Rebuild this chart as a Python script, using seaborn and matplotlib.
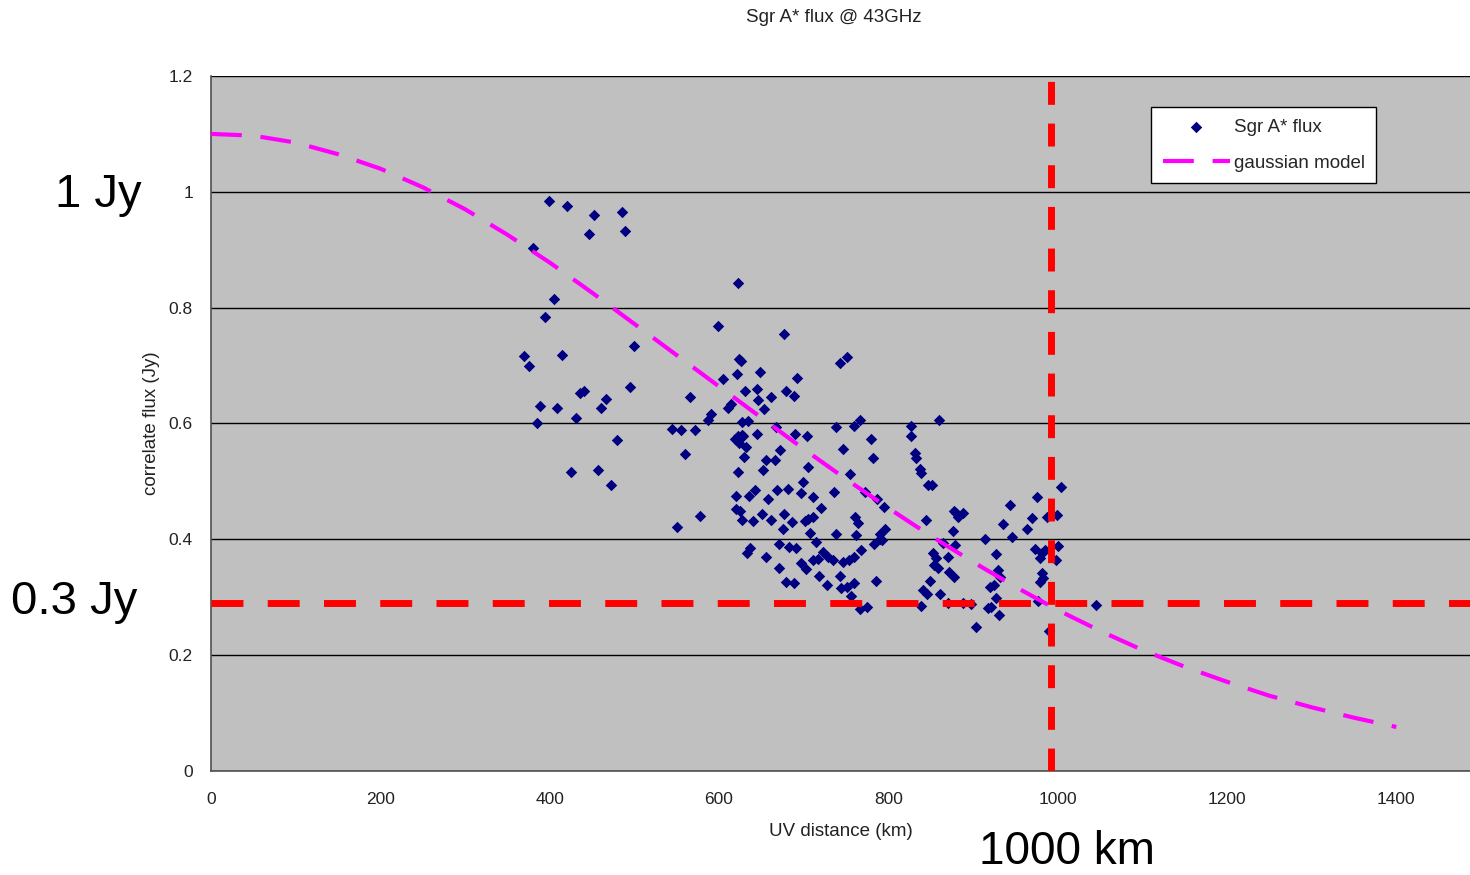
import matplotlib
matplotlib.use("Agg")
import matplotlib.pyplot as plt
import seaborn as sns
import pandas as pd

# ---- data ----
uv_km = [370, 375, 380, 385, 389, 395, 399, 405, 409, 414, 420, 425, 431, 436, 441, 446, 452, 457, 461, 467,
         473, 479, 485, 489, 495, 500,
         544, 550, 555, 560, 566, 572, 578,
         587, 591, 599, 605, 611, 614, 619, 620, 620, 621, 622, 622, 622, 624, 624, 625, 626, 627, 627, 627,
         628, 630, 631, 632, 633, 634, 636, 637, 640, 643, 645, 645, 646, 649, 651, 652, 653, 656, 656, 658,
         662, 662, 666, 667, 669, 671, 671, 672, 676, 677, 677, 679, 679, 682, 683, 686, 688, 688, 690, 691,
         692, 697, 697, 699, 702, 703, 704, 705, 705, 708, 711, 711, 711, 714, 717, 718, 721, 723, 727, 729,
         735, 736, 738, 738, 743, 743, 744, 747, 747, 751, 751, 753, 755, 756, 759, 759, 760, 761, 762, 764,
         766, 767, 768, 772, 775, 779, 782, 783, 786, 787, 790, 790, 793, 795, 796,
         827, 827, 832, 833, 837, 838, 839, 841, 845, 846, 847, 849, 852, 853, 854, 856, 859, 860, 861, 865,
         870, 870, 872, 876, 877, 877, 879, 880, 882, 888, 888, 898, 904, 914, 918, 920, 921, 925, 927, 927,
         930, 931, 932, 936, 944, 946, 964, 970, 973, 975, 977, 979, 979, 981, 981, 983, 985, 987, 990, 998,
         999, 1000, 1004, 1045]
flux_jy = [0.717, 0.700, 0.903, 0.600, 0.630, 0.784, 0.984, 0.815, 0.627, 0.719, 0.976, 0.516, 0.610, 0.653,
           0.656, 0.927, 0.960, 0.520, 0.627, 0.642, 0.494, 0.572, 0.965, 0.933, 0.663, 0.734,
           0.591, 0.421, 0.589, 0.547, 0.646, 0.589, 0.440,
           0.606, 0.617, 0.769, 0.677, 0.627, 0.634, 0.573, 0.475, 0.452, 0.686, 0.843, 0.516, 0.579, 0.712,
           0.566, 0.449, 0.708, 0.603, 0.580, 0.434, 0.578, 0.542, 0.656, 0.560, 0.377, 0.604, 0.475, 0.385,
           0.432, 0.485, 0.660, 0.582, 0.641, 0.689, 0.444, 0.520, 0.625, 0.537, 0.370, 0.470, 0.646, 0.434,
           0.537, 0.594, 0.485, 0.392, 0.351, 0.554, 0.418, 0.755, 0.444, 0.656, 0.326, 0.487, 0.387, 0.430,
           0.648, 0.325, 0.582, 0.385, 0.679, 0.480, 0.359, 0.499, 0.432, 0.349, 0.579, 0.525, 0.435, 0.411,
           0.473, 0.439, 0.364, 0.396, 0.366, 0.337, 0.454, 0.378, 0.321, 0.370, 0.364, 0.482, 0.594, 0.409,
           0.705, 0.337, 0.316, 0.556, 0.361, 0.715, 0.318, 0.364, 0.513, 0.302, 0.370, 0.325, 0.596, 0.439,
           0.408, 0.428, 0.280, 0.606, 0.382, 0.482, 0.283, 0.573, 0.541, 0.392, 0.328, 0.470, 0.409, 0.400,
           0.399, 0.456, 0.418,
           0.596, 0.579, 0.549, 0.541, 0.522, 0.515, 0.285, 0.313, 0.433, 0.306, 0.494, 0.328, 0.494, 0.376,
           0.356, 0.368, 0.351, 0.606, 0.306, 0.394, 0.370, 0.290, 0.344, 0.415, 0.449, 0.335, 0.390, 0.446,
           0.439, 0.446, 0.290, 0.288, 0.249, 0.401, 0.281, 0.318, 0.284, 0.321, 0.375, 0.299, 0.347, 0.269,
           0.335, 0.427, 0.459, 0.404, 0.418, 0.437, 0.383, 0.473, 0.294, 0.368, 0.327, 0.376, 0.342, 0.333,
           0.382, 0.439, 0.242, 0.364, 0.442, 0.389, 0.490, 0.287]

model_km = [0, 50, 100, 150, 200, 250, 300, 350, 400, 450, 500, 550, 600, 650, 700, 750, 800, 850, 900, 950,
            1000, 1050, 1100, 1150, 1200, 1250, 1300, 1350, 1400]
model_jy = [1.100, 1.097, 1.085, 1.065, 1.040, 1.008, 0.970, 0.926, 0.878, 0.826, 0.772, 0.718, 0.664, 0.610,
            0.556, 0.504, 0.454, 0.406, 0.361, 0.318, 0.278, 0.242, 0.209, 0.180, 0.154, 0.130, 0.110, 0.092,
            0.076]

flux_threshold = 0.29
uv_threshold = 992

x_ticks = [0, 200, 400, 600, 800, 1000, 1200, 1400]
y_ticks = [0, 0.2, 0.4, 0.6, 0.8, 1.0, 1.2]
y_tick_labels = ["0", "0.2", "0.4", "0.6", "0.8", "1", "1.2"]

title = "Sgr A* flux @ 43GHz"
x_label = "UV distance (km)"
y_label = "correlate flux (Jy)"

# ---- plotting ----
sns.set_style("white")
plt.rcParams['font.family'] = ['Liberation Sans', 'DejaVu Sans']

df_pts = pd.DataFrame({"uv": uv_km, "flux": flux_jy})
df_model = pd.DataFrame({"uv": model_km, "flux": model_jy})

fig = plt.figure(figsize=(14.7, 8.75), dpi=100)
ax = fig.add_axes([211 / 1470, 1 - 771 / 875, 1259 / 1470, 695 / 875])
ax.set_facecolor('#C0C0C0')

sns.scatterplot(data=df_pts, x="uv", y="flux", marker="D", s=34, color="#000080",
                linewidth=0, ax=ax, label="Sgr A* flux", zorder=3)
sns.lineplot(data=df_model, x="uv", y="flux", color="#FF00FF", linewidth=3,
             linestyle=(0, (7.4, 4.5)), ax=ax, label="gaussian model", zorder=4, sort=False)

ax.axhline(flux_threshold, color="#FF0000", lw=5, dashes=(4.6, 3.5), zorder=5)
ax.axvline(uv_threshold, color="#FF0000", lw=5, dashes=(3.3, 2.7), zorder=5)

ax.set_xlim(0, 1487)
ax.set_ylim(0, 1.2)
ax.set_xticks(x_ticks)
ax.set_xticklabels([str(t) for t in x_ticks])
ax.set_yticks(y_ticks)
ax.set_yticklabels(y_tick_labels)
ax.yaxis.grid(True, color="black", linewidth=1)
ax.xaxis.grid(False)
ax.set_axisbelow(True)

for s in ["top", "right"]:
    ax.spines[s].set_visible(False)
for s in ["left", "bottom"]:
    ax.spines[s].set_color("#505050")
    ax.spines[s].set_linewidth(1.2)

ax.tick_params(axis="both", length=0, labelsize=12.5, labelcolor="#222222")
ax.tick_params(axis="y", pad=13)
ax.tick_params(axis="x", pad=15)

ax.set_xlabel(x_label, fontsize=13.5, color="#222222", labelpad=12)
ax.set_ylabel(y_label, fontsize=13.5, color="#222222", labelpad=6)

leg = ax.legend(loc="upper left", bbox_to_anchor=(0.747, 0.955), frameon=True, fancybox=False,
                edgecolor="black", facecolor="white", framealpha=1, fontsize=13.5,
                handlelength=3.6, labelspacing=1.0, handletextpad=0.2, borderpad=0.6,
                borderaxespad=0)
leg.get_frame().set_linewidth(1.0)

fig.text(834 / 1470, 1 - 18 / 875, title, ha="center", va="center", fontsize=13.5, color="#222222")

fig.text(55 / 1470, 1 - 207 / 875, "1 Jy", ha="left", va="baseline", fontsize=34, color="black")
fig.text(11 / 1470, 1 - 614 / 875, "0.3 Jy", ha="left", va="baseline", fontsize=34, color="black")
fig.text(979 / 1470, 1 - 864 / 875, "1000 km", ha="left", va="baseline", fontsize=33, color="black")

fig.savefig("out.png", dpi=100)
